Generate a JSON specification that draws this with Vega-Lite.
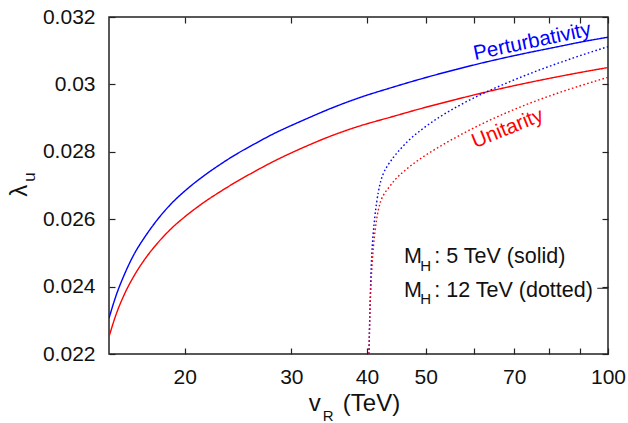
{
  "$schema": "https://vega.github.io/schema/vega-lite/v6.json",
  "width": 499,
  "height": 337,
  "autosize": {"type": "none"},
  "padding": {"left": 109, "top": 17, "right": 20, "bottom": 69},
  "background": "white",
  "config": {
    "font": "Liberation Sans",
    "view": {"stroke": "#222222", "strokeWidth": 1.5},
    "axis": {"domain": false, "grid": false, "tickColor": "#222222", "tickWidth": 1.2, "labelColor": "#111111", "labelFontSize": 21, "labelFont": "Liberation Sans", "title": null}
  },
  "datasets": {
    "curves": [
      {"x": 15, "y": 0.02306, "c": "Perturbativity", "m": "5 TeV"},
      {"x": 15.4, "y": 0.02372, "c": "Perturbativity", "m": "5 TeV"},
      {"x": 15.94, "y": 0.0244, "c": "Perturbativity", "m": "5 TeV"},
      {"x": 16.5, "y": 0.02496, "c": "Perturbativity", "m": "5 TeV"},
      {"x": 17.2, "y": 0.02548, "c": "Perturbativity", "m": "5 TeV"},
      {"x": 18, "y": 0.02597, "c": "Perturbativity", "m": "5 TeV"},
      {"x": 19.03, "y": 0.02647, "c": "Perturbativity", "m": "5 TeV"},
      {"x": 20.2, "y": 0.0269, "c": "Perturbativity", "m": "5 TeV"},
      {"x": 21.6, "y": 0.02731, "c": "Perturbativity", "m": "5 TeV"},
      {"x": 23, "y": 0.02765, "c": "Perturbativity", "m": "5 TeV"},
      {"x": 24.5, "y": 0.02796, "c": "Perturbativity", "m": "5 TeV"},
      {"x": 26, "y": 0.02822, "c": "Perturbativity", "m": "5 TeV"},
      {"x": 27.8, "y": 0.0285, "c": "Perturbativity", "m": "5 TeV"},
      {"x": 31.6, "y": 0.02896, "c": "Perturbativity", "m": "5 TeV"},
      {"x": 35, "y": 0.0293, "c": "Perturbativity", "m": "5 TeV"},
      {"x": 38.5, "y": 0.02958, "c": "Perturbativity", "m": "5 TeV"},
      {"x": 44, "y": 0.02991, "c": "Perturbativity", "m": "5 TeV"},
      {"x": 49.5, "y": 0.03018, "c": "Perturbativity", "m": "5 TeV"},
      {"x": 56, "y": 0.03044, "c": "Perturbativity", "m": "5 TeV"},
      {"x": 63.8, "y": 0.03069, "c": "Perturbativity", "m": "5 TeV"},
      {"x": 72, "y": 0.0309, "c": "Perturbativity", "m": "5 TeV"},
      {"x": 82.2, "y": 0.03111, "c": "Perturbativity", "m": "5 TeV"},
      {"x": 91, "y": 0.03127, "c": "Perturbativity", "m": "5 TeV"},
      {"x": 100, "y": 0.0314, "c": "Perturbativity", "m": "5 TeV"},

      {"x": 15, "y": 0.02251, "c": "Unitarity", "m": "5 TeV"},
      {"x": 15.4, "y": 0.02316, "c": "Unitarity", "m": "5 TeV"},
      {"x": 15.94, "y": 0.02381, "c": "Unitarity", "m": "5 TeV"},
      {"x": 16.5, "y": 0.02432, "c": "Unitarity", "m": "5 TeV"},
      {"x": 17.2, "y": 0.02482, "c": "Unitarity", "m": "5 TeV"},
      {"x": 18, "y": 0.02527, "c": "Unitarity", "m": "5 TeV"},
      {"x": 19.03, "y": 0.02573, "c": "Unitarity", "m": "5 TeV"},
      {"x": 20.2, "y": 0.02613, "c": "Unitarity", "m": "5 TeV"},
      {"x": 21.6, "y": 0.02652, "c": "Unitarity", "m": "5 TeV"},
      {"x": 23, "y": 0.02684, "c": "Unitarity", "m": "5 TeV"},
      {"x": 24.5, "y": 0.02714, "c": "Unitarity", "m": "5 TeV"},
      {"x": 26, "y": 0.0274, "c": "Unitarity", "m": "5 TeV"},
      {"x": 27.8, "y": 0.02768, "c": "Unitarity", "m": "5 TeV"},
      {"x": 31.6, "y": 0.02815, "c": "Unitarity", "m": "5 TeV"},
      {"x": 35, "y": 0.02848, "c": "Unitarity", "m": "5 TeV"},
      {"x": 38.5, "y": 0.02874, "c": "Unitarity", "m": "5 TeV"},
      {"x": 44, "y": 0.02904, "c": "Unitarity", "m": "5 TeV"},
      {"x": 49.5, "y": 0.0293, "c": "Unitarity", "m": "5 TeV"},
      {"x": 56, "y": 0.02955, "c": "Unitarity", "m": "5 TeV"},
      {"x": 63.8, "y": 0.0298, "c": "Unitarity", "m": "5 TeV"},
      {"x": 72, "y": 0.03001, "c": "Unitarity", "m": "5 TeV"},
      {"x": 82.2, "y": 0.03022, "c": "Unitarity", "m": "5 TeV"},
      {"x": 91, "y": 0.03037, "c": "Unitarity", "m": "5 TeV"},
      {"x": 100, "y": 0.0305, "c": "Unitarity", "m": "5 TeV"},

      {"x": 40.3, "y": 0.022, "c": "Perturbativity", "m": "12 TeV"},
      {"x": 40.45, "y": 0.0233, "c": "Perturbativity", "m": "12 TeV"},
      {"x": 40.56, "y": 0.0241, "c": "Perturbativity", "m": "12 TeV"},
      {"x": 40.75, "y": 0.025, "c": "Perturbativity", "m": "12 TeV"},
      {"x": 40.96, "y": 0.02558, "c": "Perturbativity", "m": "12 TeV"},
      {"x": 41.2, "y": 0.02605, "c": "Perturbativity", "m": "12 TeV"},
      {"x": 41.5, "y": 0.0265, "c": "Perturbativity", "m": "12 TeV"},
      {"x": 42, "y": 0.02702, "c": "Perturbativity", "m": "12 TeV"},
      {"x": 42.6, "y": 0.02737, "c": "Perturbativity", "m": "12 TeV"},
      {"x": 43.3, "y": 0.0276, "c": "Perturbativity", "m": "12 TeV"},
      {"x": 44.2, "y": 0.02783, "c": "Perturbativity", "m": "12 TeV"},
      {"x": 45.3, "y": 0.02806, "c": "Perturbativity", "m": "12 TeV"},
      {"x": 46.7, "y": 0.02831, "c": "Perturbativity", "m": "12 TeV"},
      {"x": 49.5, "y": 0.02869, "c": "Perturbativity", "m": "12 TeV"},
      {"x": 52.8, "y": 0.02904, "c": "Perturbativity", "m": "12 TeV"},
      {"x": 56.5, "y": 0.02935, "c": "Perturbativity", "m": "12 TeV"},
      {"x": 61, "y": 0.02966, "c": "Perturbativity", "m": "12 TeV"},
      {"x": 68, "y": 0.03004, "c": "Perturbativity", "m": "12 TeV"},
      {"x": 77.1, "y": 0.03043, "c": "Perturbativity", "m": "12 TeV"},
      {"x": 87.5, "y": 0.03078, "c": "Perturbativity", "m": "12 TeV"},
      {"x": 100, "y": 0.03112, "c": "Perturbativity", "m": "12 TeV"},

      {"x": 40.3, "y": 0.022, "c": "Unitarity", "m": "12 TeV"},
      {"x": 40.45, "y": 0.0232, "c": "Unitarity", "m": "12 TeV"},
      {"x": 40.6, "y": 0.024, "c": "Unitarity", "m": "12 TeV"},
      {"x": 40.8, "y": 0.0247, "c": "Unitarity", "m": "12 TeV"},
      {"x": 41, "y": 0.0252, "c": "Unitarity", "m": "12 TeV"},
      {"x": 41.5, "y": 0.026, "c": "Unitarity", "m": "12 TeV"},
      {"x": 42, "y": 0.02645, "c": "Unitarity", "m": "12 TeV"},
      {"x": 42.6, "y": 0.02672, "c": "Unitarity", "m": "12 TeV"},
      {"x": 43.3, "y": 0.0269, "c": "Unitarity", "m": "12 TeV"},
      {"x": 44.5, "y": 0.02717, "c": "Unitarity", "m": "12 TeV"},
      {"x": 46.6, "y": 0.0275, "c": "Unitarity", "m": "12 TeV"},
      {"x": 49.5, "y": 0.02785, "c": "Unitarity", "m": "12 TeV"},
      {"x": 52.8, "y": 0.02816, "c": "Unitarity", "m": "12 TeV"},
      {"x": 56.5, "y": 0.02846, "c": "Unitarity", "m": "12 TeV"},
      {"x": 61, "y": 0.02877, "c": "Unitarity", "m": "12 TeV"},
      {"x": 68, "y": 0.02916, "c": "Unitarity", "m": "12 TeV"},
      {"x": 77.1, "y": 0.02955, "c": "Unitarity", "m": "12 TeV"},
      {"x": 87.5, "y": 0.02989, "c": "Unitarity", "m": "12 TeV"},
      {"x": 100, "y": 0.03021, "c": "Unitarity", "m": "12 TeV"}
    ],
    "bigText": [
      {"label": "M", "x": 46.03, "y": 0.0247},
      {"label": ": 5 TeV (solid)", "x": 51.67, "y": 0.0247},
      {"label": "M", "x": 46.03, "y": 0.023706},
      {"label": ": 12 TeV (dotted)", "x": 51.67, "y": 0.023706}
    ],
    "titleText": [
      {"label": "v", "x": 32.07, "y": 0.020323},
      {"label": "(TeV)", "x": 36.49, "y": 0.020323}
    ],
    "smallText": [
      {"label": "H", "x": 48.99, "y": 0.024463},
      {"label": "H", "x": 48.99, "y": 0.023469},
      {"label": "R", "x": 33.82, "y": 0.020012}
    ],
    "yBig": [{"label": "λ", "x": 10.97, "y": 0.026668}],
    "ySmall": [{"label": "u", "x": 11.32, "y": 0.027113}],
    "pert": [{"label": "Perturbativity", "x": 60.3, "y": 0.030724}],
    "unit": [{"label": "Unitarity", "x": 60.3, "y": 0.028104}],
    "keydash": [{"x": 96, "x2": 100, "y": 0.02395}]
  },
  "resolve": {"axis": {"x": "independent", "y": "independent"}},
  "layer": [
    {
      "data": {"name": "curves"},
      "mark": {"type": "line", "strokeWidth": 1.4, "interpolate": "monotone", "clip": true},
      "encoding": {
        "x": {"field": "x", "type": "quantitative",
              "scale": {"type": "log", "domain": [15, 100], "nice": false},
              "axis": {"orient": "bottom", "values": [20, 30, 40, 50, 60, 70, 80, 90, 100], "labelExpr": "datum.value == 60 || datum.value == 80 || datum.value == 90 ? '' : format(datum.value, 'd')", "tickSize": -6, "labelPadding": 18.5, "labelFlush": false, "labelOverlap": false}},
        "y": {"field": "y", "type": "quantitative",
              "scale": {"domain": [0.022, 0.032], "nice": false, "zero": false},
              "axis": {"orient": "left", "values": [0.022, 0.024, 0.026, 0.028, 0.03, 0.032], "format": "~g", "tickSize": -6, "labelPadding": 20, "labelFlush": false, "labelOverlap": false}},
        "color": {"field": "c", "type": "nominal", "scale": {"domain": ["Perturbativity", "Unitarity"], "range": ["#0000ff", "#ff0000"]}, "legend": null},
        "strokeDash": {"field": "m", "type": "nominal", "scale": {"domain": ["5 TeV", "12 TeV"], "range": [[1, 0], [1.6, 2.4]]}, "legend": null}
      }
    },
    {
      "data": {"name": "curves"},
      "mark": {"type": "line", "opacity": 0},
      "encoding": {
        "x": {"field": "x", "type": "quantitative",
              "scale": {"type": "log", "domain": [15, 100], "nice": false},
              "axis": {"orient": "top", "values": [20, 30, 40, 50, 60, 70, 80, 90, 100], "labels": false, "tickSize": -6}},
        "y": {"field": "y", "type": "quantitative",
              "scale": {"domain": [0.022, 0.032], "nice": false, "zero": false},
              "axis": {"orient": "right", "values": [0.022, 0.024, 0.026, 0.028, 0.03, 0.032], "labels": false, "tickSize": -6}},
        "detail": {"field": "c"}
      }
    },
    {
      "data": {"name": "bigText"},
      "mark": {"type": "text", "align": "left", "baseline": "alphabetic", "fontSize": 21.5, "color": "#111111"},
      "encoding": {
        "x": {"field": "x", "type": "quantitative", "scale": {"type": "log", "domain": [15, 100], "nice": false}, "axis": null},
        "y": {"field": "y", "type": "quantitative", "scale": {"domain": [0.022, 0.032], "nice": false, "zero": false}, "axis": null},
        "text": {"field": "label"}
      }
    },
    {
      "data": {"name": "titleText"},
      "mark": {"type": "text", "align": "left", "baseline": "alphabetic", "fontSize": 24, "color": "#111111"},
      "encoding": {
        "x": {"field": "x", "type": "quantitative", "scale": {"type": "log", "domain": [15, 100], "nice": false}, "axis": null},
        "y": {"field": "y", "type": "quantitative", "scale": {"domain": [0.022, 0.032], "nice": false, "zero": false}, "axis": null},
        "text": {"field": "label"}
      }
    },
    {
      "data": {"name": "smallText"},
      "mark": {"type": "text", "align": "left", "baseline": "alphabetic", "fontSize": 15, "color": "#111111"},
      "encoding": {
        "x": {"field": "x", "type": "quantitative", "scale": {"type": "log", "domain": [15, 100], "nice": false}, "axis": null},
        "y": {"field": "y", "type": "quantitative", "scale": {"domain": [0.022, 0.032], "nice": false, "zero": false}, "axis": null},
        "text": {"field": "label"}
      }
    },
    {
      "data": {"name": "yBig"},
      "mark": {"type": "text", "align": "left", "baseline": "alphabetic", "fontSize": 24, "angle": 270, "color": "#111111"},
      "encoding": {
        "x": {"field": "x", "type": "quantitative", "scale": {"type": "log", "domain": [15, 100], "nice": false}, "axis": null},
        "y": {"field": "y", "type": "quantitative", "scale": {"domain": [0.022, 0.032], "nice": false, "zero": false}, "axis": null},
        "text": {"field": "label"}
      }
    },
    {
      "data": {"name": "ySmall"},
      "mark": {"type": "text", "align": "left", "baseline": "alphabetic", "fontSize": 17, "angle": 270, "color": "#111111"},
      "encoding": {
        "x": {"field": "x", "type": "quantitative", "scale": {"type": "log", "domain": [15, 100], "nice": false}, "axis": null},
        "y": {"field": "y", "type": "quantitative", "scale": {"domain": [0.022, 0.032], "nice": false, "zero": false}, "axis": null},
        "text": {"field": "label"}
      }
    },
    {
      "data": {"name": "pert"},
      "mark": {"type": "text", "align": "left", "baseline": "alphabetic", "fontSize": 20.5, "angle": 348, "color": "#0000ff"},
      "encoding": {
        "x": {"field": "x", "type": "quantitative", "scale": {"type": "log", "domain": [15, 100], "nice": false}, "axis": null},
        "y": {"field": "y", "type": "quantitative", "scale": {"domain": [0.022, 0.032], "nice": false, "zero": false}, "axis": null},
        "text": {"field": "label"}
      }
    },
    {
      "data": {"name": "unit"},
      "mark": {"type": "text", "align": "left", "baseline": "alphabetic", "fontSize": 20.5, "angle": 338, "color": "#ff0000"},
      "encoding": {
        "x": {"field": "x", "type": "quantitative", "scale": {"type": "log", "domain": [15, 100], "nice": false}, "axis": null},
        "y": {"field": "y", "type": "quantitative", "scale": {"domain": [0.022, 0.032], "nice": false, "zero": false}, "axis": null},
        "text": {"field": "label"}
      }
    },
    {
      "data": {"name": "keydash"},
      "mark": {"type": "rule", "color": "#222222", "strokeWidth": 1},
      "encoding": {
        "x": {"field": "x", "type": "quantitative", "scale": {"type": "log", "domain": [15, 100], "nice": false}, "axis": null},
        "x2": {"field": "x2"},
        "y": {"field": "y", "type": "quantitative", "scale": {"domain": [0.022, 0.032], "nice": false, "zero": false}, "axis": null}
      }
    }
  ]
}
